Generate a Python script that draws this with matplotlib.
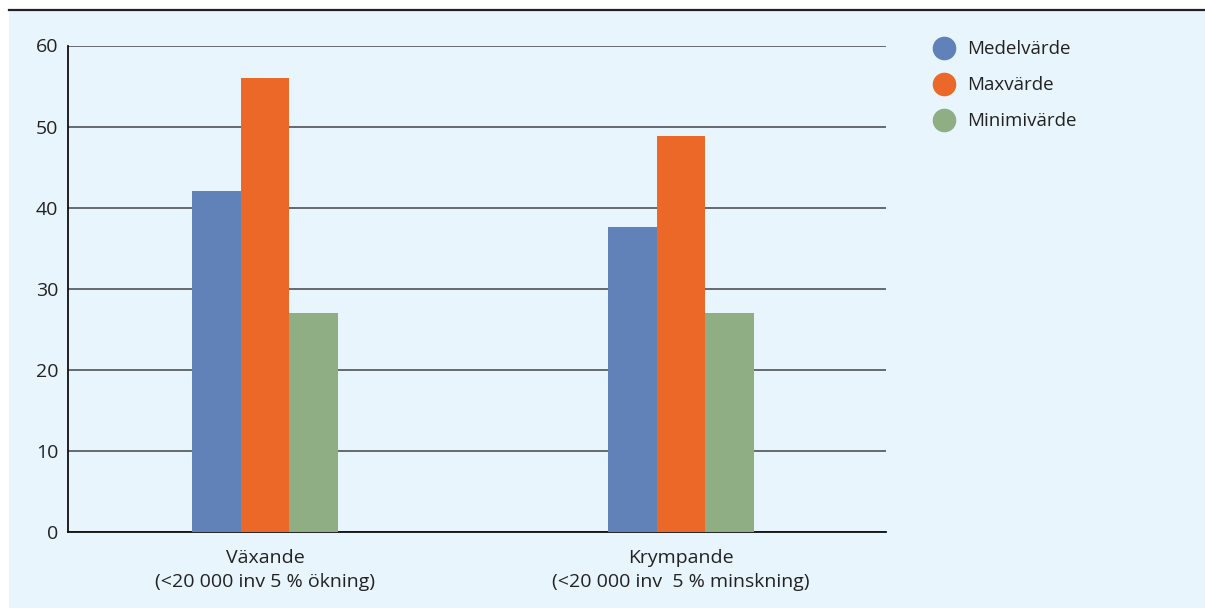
import numpy as np
import matplotlib.pyplot as plt
from matplotlib.patches import Rectangle
from matplotlib.lines import Line2D

plt.rcParams['font.family'] = ['Open Sans', 'DejaVu Sans']

categories = ["Växande\n(<20 000 inv 5 % ökning)", "Krympande\n(<20 000 inv  5 % minskning)"]
series = ["Medelvärde", "Maxvärde", "Minimivärde"]
medel = [42, 37.6]
maxv = [56, 48.9]
minv = [27, 27]
colors = ["#6082B9", "#EC6828", "#8FAE84"]
bg = "#E8F5FD"

fig = plt.figure(figsize=(12.05, 6.08), dpi=100)
fig.patch.set_facecolor("white")

# light blue panel with black line on top
fig.patches.append(Rectangle((9/1205, 0), 1 - 9/1205, 1 - 10/608, transform=fig.transFigure,
                             facecolor=bg, edgecolor="none", zorder=-5))
fig.add_artist(Line2D([9/1205, 1], [1 - 10/608, 1 - 10/608], transform=fig.transFigure,
                      color="#222222", linewidth=1.6))

ax = fig.add_axes([68/1205, 1 - 532/608, (886 - 68)/1205, (532 - 45.5)/608])
ax.set_facecolor("none")

x = np.arange(len(categories))
w = 0.117
for i, (vals, c) in enumerate(zip([medel, maxv, minv], colors)):
    ax.bar(x + (i - 1) * w, vals, width=w, color=c, zorder=3, label=series[i])

ax.set_ylim(0, 60)
ax.set_xlim(-0.474, 1.493)
ax.set_yticks(range(0, 61, 10))
ax.set_xticks(x)
ax.set_xticklabels(categories, linespacing=1.42)
ax.yaxis.grid(True, color="#5a5f63", linewidth=1.3, zorder=1)
ax.set_axisbelow(True)
for s in ["top", "right"]:
    ax.spines[s].set_visible(False)
ax.spines["left"].set_color("#111111")
ax.spines["bottom"].set_color("#111111")
ax.spines["left"].set_linewidth(1.3)
ax.spines["bottom"].set_linewidth(1.3)
ax.tick_params(axis="both", length=0, labelsize=14, colors="#222222")
ax.tick_params(axis="y", pad=7)
ax.tick_params(axis="x", pad=12.5)

handles = [Line2D([], [], marker="o", linestyle="none", markersize=16, color=c) for c in colors]
fig.legend(handles, series, loc="upper left", bbox_to_anchor=(922/1205, 1 - 33/608),
           frameon=False, fontsize=13.5, labelspacing=0.95, handletextpad=0.5,
           handlelength=1.5, borderaxespad=0, labelcolor="#222222")

fig.savefig("out.png", dpi=100)
